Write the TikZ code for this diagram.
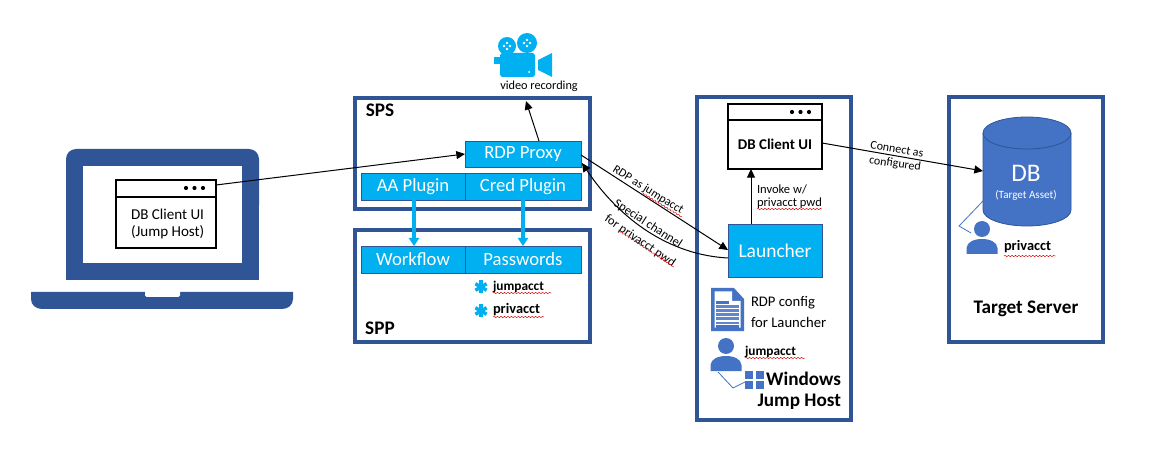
\documentclass[tikz,border=0pt]{standalone}
\usepackage{fontspec}
\setmainfont{Carlito}
\usetikzlibrary{arrows.meta,calc,decorations.pathmorphing}
\definecolor{frame}{HTML}{2F5597}
\definecolor{cyanb}{HTML}{00B0F0}
\definecolor{iconb}{HTML}{4472C4}
\def\uu{0.75pt}
\newcommand{\fs}[1]{\fontsize{#1}{#1}\selectfont}
\tikzset{
  x=0.75pt,y=-0.75pt,
  wh/.style 2 args={minimum width=#1*\uu,minimum height=#2*\uu,inner sep=0pt,outer sep=0pt},
  frameb/.style={draw=frame,line width=3pt,fill=white},
  winb/.style={draw=black,line width=1.6pt,fill=white,align=center},
  cyanbox/.style={draw=frame,line width=0.6pt,fill=cyanb,text=white},
  lbl/.style={inner sep=0pt,outer sep=0pt,align=left},
  arr/.style={draw=black,line width=0.75pt,-{Triangle[length=6.5pt,width=6pt]}},
  bluearr/.style={draw=cyanb,line width=2.6pt,-{Triangle[length=6pt,width=7.5pt]}},
  wavy/.style={draw=red!85!black,line width=0.35pt,decorate,decoration={snake,segment length=2.6pt,amplitude=0.5pt}},
  thinblue/.style={draw=iconb,line width=0.6pt},
  sm/.style={font=\fs{9}},
  smb/.style={font=\fs{9.4}},
}
\newcommand{\aster}[2]{%
  \foreach \a in {90,30,-30}{\draw[cyanb,line width=2.6pt] ($(#1,#2)+(\a:6.5)$) -- ($(#1,#2)+(\a+180:6.5)$);}}
\newcommand{\person}[2]{%
  \fill[iconb] (#1,#2) circle (8);
  \fill[iconb] ($(#1,#2)+(-15.5,25)$) -- ($(#1,#2)+(-15.5,19)$) .. controls ($(#1,#2)+(-15,13)$) and ($(#1,#2)+(-8,10)$) .. ($(#1,#2)+(0,10)$) .. controls ($(#1,#2)+(8,10)$) and ($(#1,#2)+(15,13)$) .. ($(#1,#2)+(15.5,19)$) -- ($(#1,#2)+(15.5,25)$) -- cycle;}
\newcommand{\windots}[1]{%
  \foreach \d in {9,17.5,26}{\fill[black] ($(#1.north east)+(-\d-4,8)$) circle (2.1);}}
\begin{document}
\begin{tikzpicture}
\fill[white] (0,0) rectangle (1160,452);
\useasboundingbox (0,0) rectangle (1160,452);

% laptop
\fill[frame,rounded corners=7.5pt] (66,215) -- (66,149) -- (259,149) -- (259,215) -- cycle;
\fill[frame] (66,170) rectangle (259,280);
\fill[white] (83,166) rectangle (242,263);
\fill[frame] (31,292) -- (293,292) -- (293,299) .. controls (293,305) and (288,309) .. (282,309) -- (42,309) .. controls (36,309) and (31,305) .. (31,299) -- cycle;
\fill[white,rounded corners=1.2pt] (145,290) -- (145,297) -- (180,297) -- (180,290) -- cycle;

% frames
\node[frameb,wh={235}{111}] (sps) at (472.5,153.5) {};
\node[frameb,wh={235}{112}] (spp) at (472.5,286) {};
\node[frameb,wh={154}{323}] (jump) at (774,258.5) {};
\node[frameb,wh={154}{245}] (target) at (1026,219.5) {};

% laptop window
\node[winb,wh={100}{68}] (win1) at (166,214) {};
\draw[black,line width=1.6pt] ($(win1.north west)+(0,17)$) -- ($(win1.north east)+(0,17)$);
\windots{win1}
\node[lbl,anchor=west,font=\fs{11.3}] (win1t) at (131,214) {DB Client UI};
\node[lbl,anchor=west,font=\fs{11.3}] (win1u) at (131,232) {(Jump Host)};

% SPS
\node[lbl,font=\bfseries\fs{14.4}] (spst) at (380,110) {SPS};
\node[cyanbox,wh={116}{26},font=\fs{14}] (rdp) at (523,154) {RDP Proxy};
\node[cyanbox,wh={104}{27},font=\fs{14}] (aa) at (413,186.5) {AA Plugin};
\node[cyanbox,wh={116}{27},font=\fs{14}] (cred) at (523,186.5) {Cred Plugin};

% SPP
\node[cyanbox,wh={104}{27},font=\fs{14}] (wf) at (413,259.5) {Workflow};
\node[cyanbox,wh={116}{27},font=\fs{14}] (pw) at (523,259.5) {Passwords};
\node[lbl,font=\bfseries\fs{14.4}] (sppt) at (380,328) {SPP};
\aster{481}{287}
\aster{481}{311}
\node[lbl,anchor=west,font=\bfseries\fs{10}] (ja1) at (493,287) {jumpacct};
\node[lbl,anchor=west,font=\bfseries\fs{10.8}] (pa1) at (493,310) {privacct};
\draw[wavy] (493,293) -- (552,293);
\draw[wavy] (493,317) -- (544,317);

% camera
\fill[cyanb] (507,46) circle (9);
\fill[cyanb] (527,43) circle (10);
\fill[cyanb,rounded corners=2pt] (500,53) rectangle (535,77);
\fill[cyanb] (494,57) rectangle (501,64);
\fill[cyanb] (538,60) -- (552,53) -- (552,77) -- (538,70) -- cycle;
\foreach \c/\d in {507/46,527/43}{
  \foreach \e/\f in {-3/0,3/0,0/-3,0/3}{\fill[white] ($(\c,\d)+(\e,\f)$) circle (1.4);}}
\fill[white] (529,72) circle (1);
\node[lbl,font=\fs{9.2}] (vid) at (539,86) {video recording};
\coordinate (vidin) at (526,101);

% jump host
\node[winb,wh={94}{65}] (win2) at (775,136.5) {};
\draw[black,line width=1.6pt] ($(win2.north west)+(0,16)$) -- ($(win2.north east)+(0,16)$);
\windots{win2}
\node[lbl,font=\bfseries\fs{11.2}] (win2t) at (775,144) {DB Client UI};
\node[cyanbox,wh={94}{53},font=\fs{14.6}] (launch) at (775,250.5) {Launcher};
\node[lbl,anchor=west,font=\fs{9.4}] (inv) at (757,189) {Invoke w/};
\node[lbl,anchor=west,font=\fs{9.4}] (inw) at (757,203) {privacct pwd};
\draw[wavy] (757,209) -- (822,209);
% document icon
\fill[iconb] (711,288) -- (734,288) -- (744,299) -- (744,331) -- (711,331) -- cycle;
\fill[white] (714.5,291.5) -- (732,291.5) -- (732,301) -- (740.5,301) -- (740.5,327.5) -- (714.5,327.5) -- cycle;
\fill[iconb] (716,301) rectangle (729,304);
\foreach \s in {305.5,309.5,313.5,317.5,321.5}{\fill[iconb!85] (716,\s) rectangle (739,\s+2.6);}
\fill[iconb] (716,325) rectangle (739,327.5);
\node[lbl,anchor=west,font=\fs{11}] (cfg) at (751,303) {RDP config};
\node[lbl,anchor=west,font=\fs{11}] (cfh) at (751,322) {for Launcher};
\person{726}{346}
\node[lbl,anchor=west,font=\bfseries\fs{10}] (ja2) at (745,352) {jumpacct};
\draw[wavy] (745,358) -- (805,358);
\draw[thinblue] (718,372) -- (733,388) -- (745,382);
\foreach \p/\q in {745/371,755.5/371,745/381,755.5/381}{\fill[iconb] (\p,\q) rectangle (\p+8,\q+7.5);}
\node[lbl,anchor=east,font=\bfseries\fs{14.4}] (wint) at (841,379) {Windows};
\node[lbl,anchor=east,font=\bfseries\fs{14.4}] (jht) at (841,402) {Jump Host};

% target
\path[fill=iconb,draw=frame,line width=0.6pt] (983,133) .. controls (983,124) and (1003,117) .. (1027,117) .. controls (1051,117) and (1071,124) .. (1071,133) -- (1071,210) .. controls (1071,219) and (1051,226) .. (1027,226) .. controls (1003,226) and (983,219) .. (983,210) -- cycle;
\draw[frame,line width=0.6pt] (983,133) .. controls (983,142) and (1003,149) .. (1027,149) .. controls (1051,149) and (1071,142) .. (1071,133);
\node[inner sep=0pt,outer sep=0pt,minimum width=66pt,minimum height=57pt] (db) at (1027,171) {};
\node[lbl,text=white,font=\fs{19}] (dbt) at (1026,173) {DB};
\node[lbl,text=white,font=\fs{8.3}] (dbs) at (1026,195) {(Target Asset)};
\person{982}{229}
\draw[thinblue] (983,201) -- (959,226) -- (971,233);
\node[lbl,anchor=west,font=\bfseries\fs{10.8}] (pa2) at (1004,247) {privacct};
\draw[wavy] (1004,256) -- (1056,256);
\node[lbl,font=\bfseries\fs{14.4}] (tst) at (1026,309) {Target Server};

% connectors
\draw[arr] ($(win1.north east)+(0,5)$) -- (rdp.west);
\draw[arr] ($(rdp.north)+(16,0)$) -- (vidin);
\draw[arr] ($(rdp.east)+(0,1)$) -- ($(launch.west)+(0,-0.5)$);
\draw[arr] ($(launch.west)+(0,7.5)$) .. controls (670,255) and (620,220) .. ($(rdp.south east)+(1,-4)$);
\draw[arr] ($(launch.north)+(-24,0)$) -- ($(win2.south)+(-24,0)$);
\draw[arr] ($(win2.east)+(0,6.5)$) -- (db.west);
\draw[bluearr] ($(aa.south)+(1,0)$) -- ($(wf.north)+(1,0)$);
\draw[bluearr] (cred.south) -- (pw.north);

% slanted labels
\node[lbl,sm,rotate=-32] (l1) at (648,190) {RDP as jumpacct};
\draw[wavy] (642,193) -- (682,217);
\node[lbl,smb,rotate=-33] (l2) at (648,224) {Special channel};
\node[lbl,smb,rotate=-34] (l3) at (640,241) {for privacct pwd};
\draw[wavy] (618,230) -- (674,267);
\node[lbl,sm,rotate=-10] (l4) at (897,149) {Connect as};
\node[lbl,sm,rotate=-8] (l5) at (895,164) {configured};
\end{tikzpicture}
\end{document}
